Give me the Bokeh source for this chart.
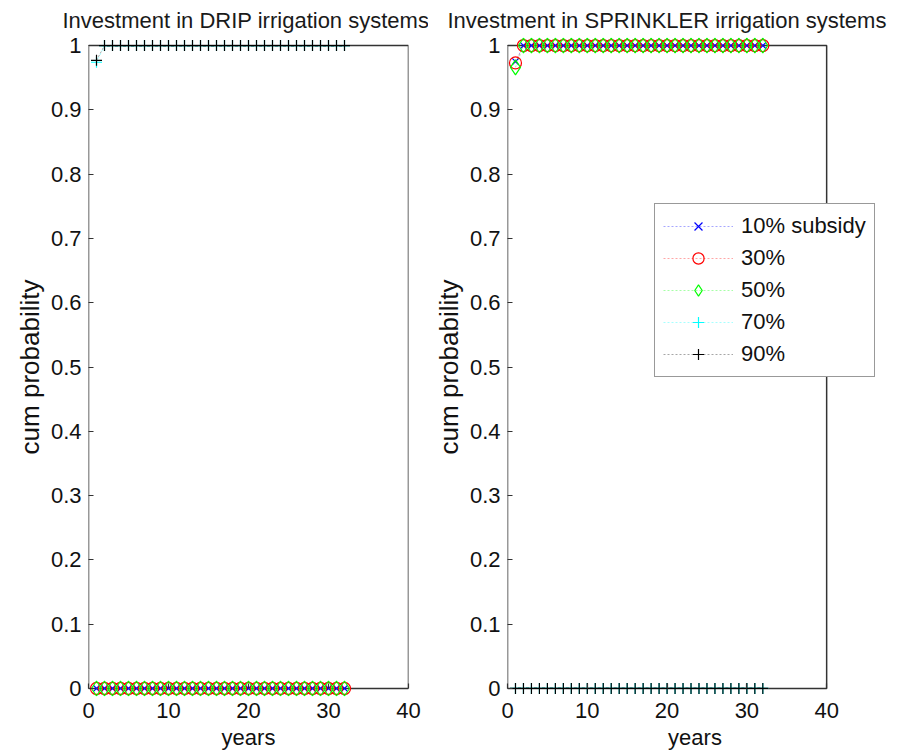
from bokeh.plotting import figure
from bokeh.layouts import row
from bokeh.models import Legend, LegendItem, FixedTicker, Range1d, BoxAnnotation
from bokeh.embed import file_html
from bokeh.resources import INLINE

years = list(range(1, 33))

# DRIP irrigation systems: cumulative probability per subsidy level
drip_10 = [0.0] * 32
drip_30 = [0.0] * 32
drip_50 = [0.0] * 32
drip_70 = [0.974] + [1.0] * 31
drip_90 = [0.977] + [1.0] * 31

# SPRINKLER irrigation systems
spr_10 = [0.975] + [1.0] * 31
spr_30 = [0.973] + [1.0] * 31
spr_50 = [0.966] + [1.0] * 31
spr_70 = [0.0] * 32
spr_90 = [0.0] * 32

labels = ["10% subsidy", "30%", "50%", "70%", "90%"]
x_ticks = [0, 10, 20, 30, 40]
y_ticks = [0, 0.1, 0.2, 0.3, 0.4, 0.5, 0.6, 0.7, 0.8, 0.9, 1]
x_lim = (0, 40)
y_lim = (0, 1)

styles = [
    dict(marker="x", color="#0000ff", size=9),
    dict(marker="circle", color="#ff0000", size=12),
    dict(marker="diamond", color="#00ff00", size=15),
    dict(marker="cross", color="#00ffff", size=11),
    dict(marker="cross", color="#000000", size=11),
]

FONT = "Liberation Sans"
PAD = 0.0125


def make_fig(title, series, width, left, right, x_max, title_offset, with_legend):
    p = figure(width=width, height=752, output_backend="svg", toolbar_location=None,
               x_range=Range1d(x_lim[0], x_max),
               y_range=Range1d(y_lim[0] - PAD, y_lim[1] + PAD),
               min_border_left=left, min_border_right=right,
               min_border_top=37, min_border_bottom=56)
    p.title.text = title
    p.title.align = "left"
    p.title.offset = title_offset
    p.title.standoff = 10
    p.title.text_font = FONT
    p.title.text_font_size = "22px"
    p.title.text_font_style = "normal"
    p.title.text_color = "#1a1a1a"
    p.grid.visible = False
    p.outline_line_color = None
    p.background_fill_color = "white"
    p.border_fill_color = "white"
    for ax in (p.xaxis[0], p.yaxis[0]):
        ax.minor_tick_in = 0
        ax.minor_tick_out = 0
        ax.axis_line_color = None
        ax.major_tick_line_color = "#333333"
        ax.major_tick_line_width = 1.2
        ax.major_label_text_font = FONT
        ax.major_label_text_font_size = "22px"
        ax.major_label_text_color = "#111111"
        ax.axis_label_text_font = FONT
        ax.axis_label_text_font_style = "normal"
        ax.axis_label_text_color = "#111111"
    p.xaxis.axis_label_text_font_size = "22px"
    p.yaxis.axis_label_text_font_size = "26px"
    p.yaxis.major_tick_in = 5
    p.yaxis.major_tick_out = 0
    # x axis sits 8px below y=0 (room for markers); shift its ticks up onto the box edge
    p.xaxis.major_tick_in = 13
    p.xaxis.major_tick_out = -8
    p.xaxis.ticker = FixedTicker(ticks=x_ticks)
    p.yaxis.ticker = FixedTicker(ticks=y_ticks)
    p.yaxis.major_label_overrides = {0: "0", 1: "1"}
    p.xaxis.axis_label = "years"
    p.yaxis.axis_label = "cum probability"
    p.xaxis.major_label_standoff = 6
    p.xaxis.axis_label_standoff = 4
    p.yaxis.major_label_standoff = 7
    p.yaxis.axis_label_standoff = 3

    box = BoxAnnotation(left=x_lim[0], right=x_lim[1], bottom=y_lim[0], top=y_lim[1],
                        fill_alpha=0, line_color="#333333", line_alpha=1.0,
                        line_width=1.5, level="underlay")
    p.add_layout(box)

    items = []
    for vals, st, lab in zip(series, styles, labels):
        ln = p.line(years, vals, line_color=st["color"], line_dash="2 2",
                    line_alpha=0.35, line_width=1)
        sc = p.scatter(years, vals, marker=st["marker"], size=st["size"],
                       line_color=st["color"], fill_color=None, line_width=1.2)
        items.append(LegendItem(label=lab, renderers=[ln, sc]))
    if with_legend:
        leg = Legend(items=items, location=(147, 319))
        leg.label_text_font = FONT
        leg.label_text_font_size = "22px"
        leg.label_text_color = "#111111"
        leg.border_line_color = "#333333"
        leg.border_line_width = 1.5
        leg.glyph_width = 70
        leg.glyph_height = 28
        leg.label_height = 28
        leg.spacing = 4
        leg.padding = 8
        leg.margin = 0
        leg.label_standoff = 8
        leg.background_fill_color = "white"
        leg.background_fill_alpha = 1.0
        p.add_layout(leg, "center")
    return p


p1 = make_fig("Investment in DRIP irrigation systems",
              [drip_10, drip_30, drip_50, drip_70, drip_90],
              428, 88, 20, 40, -26, False)
p2 = make_fig("Investment in SPRINKLER irrigation systems",
              [spr_10, spr_30, spr_50, spr_70, spr_90],
              470, 79, 16, 47, -60, True)

layout = row(p1, p2)
open("out.html", "w").write(file_html(layout, INLINE))
